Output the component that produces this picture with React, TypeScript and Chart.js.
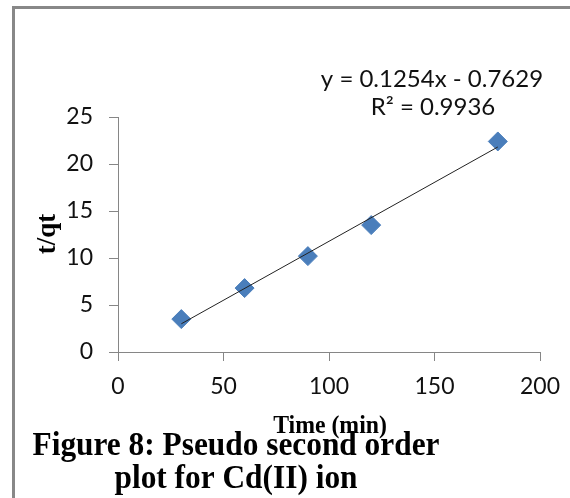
import React, { useEffect, useRef } from "react";
import { Chart, registerables } from "chart.js";

Chart.register(...registerables);

// ---- data ----
const timeMin = [30, 60, 90, 120, 180];
const tOverQt = [3.5, 6.8, 10.2, 13.5, 22.4];
// trendline end points (from y = 0.1254x - 0.7629 at x = 30 and x = 180)
const trendX = [30, 180];
const trendY = [2.9991, 21.8091];
const xTicks = [0, 50, 100, 150, 200];
const yTicks = [0, 5, 10, 15, 20, 25];
const equationLabel = "y = 0.1254x - 0.7629";
const r2Label = "R² = 0.9936";
const xTitle = "Time (min)";
const yTitle = "t/qt";
const captionLines = ["Figure 8: Pseudo second order", "plot for Cd(II) ion"];

const W = 570;
const H = 498;
const AXIS = "#868686";
const SANS = "Lato, 'Open Sans', sans-serif";
const SERIF = "'Liberation Serif', 'DejaVu Serif', serif";

const decorPlugin = {
  id: "decor",
  afterDraw(chart: any) {
    const ctx = chart.ctx as CanvasRenderingContext2D;
    ctx.save();
    // outer frame (left + top visible)
    ctx.strokeStyle = "#888888";
    ctx.lineWidth = 3;
    ctx.beginPath();
    ctx.moveTo(13.5, H);
    ctx.lineTo(13.5, 7.5);
    ctx.lineTo(W, 7.5);
    ctx.stroke();

    // trendline equation
    ctx.fillStyle = "#111111";
    ctx.font = `24px ${SANS}`;
    ctx.textAlign = "center";
    ctx.textBaseline = "alphabetic";
    ctx.fillText(equationLabel, 432, 87);
    ctx.fillText(r2Label, 433, 115);

    // x axis title
    ctx.fillStyle = "#000000";
    ctx.font = `bold 25px ${SERIF}`;
    ctx.save();
    ctx.translate(330, 433);
    ctx.scale(0.95, 1);
    ctx.fillText(xTitle, 0, 0);
    ctx.restore();

    // y axis title
    ctx.save();
    ctx.translate(55, 234);
    ctx.rotate(-Math.PI / 2);
    ctx.font = `bold 27px ${SERIF}`;
    ctx.textAlign = "center";
    ctx.fillText(yTitle, 0, 0);
    ctx.restore();

    // caption
    ctx.font = `bold 33px ${SERIF}`;
    const baselines = [455, 488];
    captionLines.forEach((line, i) => {
      ctx.save();
      ctx.translate(236, baselines[i]);
      ctx.scale(0.95, 1);
      ctx.textAlign = "center";
      ctx.fillText(line, 0, 0);
      ctx.restore();
    });
    ctx.restore();
  },
};

export default function App() {
  const ref = useRef<HTMLCanvasElement | null>(null);

  useEffect(() => {
    if (!ref.current) return;
    const chart = new Chart(ref.current, {
      type: "scatter",
      data: {
        datasets: [
          {
            label: "t/qt",
            data: timeMin.map((x, i) => ({ x, y: tOverQt[i] })),
            pointStyle: "rectRot",
            pointRadius: 9.5,
            pointHoverRadius: 9.5,
            backgroundColor: "#4a7ebb",
            borderColor: "#4a7ebb",
            borderWidth: 1,
            order: 1,
          },
          {
            type: "line",
            label: "trend",
            data: trendX.map((x, i) => ({ x, y: trendY[i] })),
            borderColor: "#222222",
            borderWidth: 1,
            pointRadius: 0,
            fill: false,
            showLine: true,
            order: 0,
          } as any,
        ],
      },
      options: {
        animation: false,
        responsive: false,
        devicePixelRatio: 1,
        events: [],
        layout: { padding: { left: 0, top: 117, right: 30, bottom: 0 } },
        plugins: {
          legend: { display: false },
          tooltip: { enabled: false },
          title: { display: false },
        },
        scales: {
          x: {
            type: "linear",
            min: 0,
            max: 200,
            afterBuildTicks: (s: any) => {
              s.ticks = xTicks.map((v) => ({ value: v }));
            },
            afterFit: (s: any) => {
              s.height = H - 352;
              s.paddingLeft = 0;
              s.paddingRight = 0;
            },
            grid: {
              display: true,
              drawOnChartArea: false,
              drawTicks: true,
              tickLength: 9,
              color: AXIS,
              tickColor: AXIS,
            },
            border: { display: true, color: AXIS, width: 1 },
            ticks: {
              font: { family: SANS, size: 23 },
              color: "#111111",
              padding: 12,
              maxRotation: 0,
              autoSkip: false,
            },
          },
          y: {
            type: "linear",
            min: 0,
            max: 25,
            afterBuildTicks: (s: any) => {
              s.ticks = yTicks.map((v) => ({ value: v }));
            },
            afterFit: (s: any) => {
              s.width = 118;
              s.paddingTop = 0;
              s.paddingBottom = 0;
            },
            grid: {
              display: true,
              drawOnChartArea: false,
              drawTicks: true,
              tickLength: 9,
              color: AXIS,
              tickColor: AXIS,
            },
            border: { display: true, color: AXIS, width: 1 },
            ticks: {
              font: { family: SANS, size: 23 },
              color: "#111111",
              padding: 16,
              autoSkip: false,
            },
          },
        },
      },
      plugins: [decorPlugin],
    });
    return () => chart.destroy();
  }, []);

  return (
    <div
      style={{
        position: "absolute",
        left: 0,
        top: 0,
        width: W,
        height: H,
        background: "#ffffff",
        overflow: "hidden",
      }}
    >
      <canvas ref={ref} width={W} height={H} style={{ display: "block", width: W, height: H }} />
    </div>
  );
}
